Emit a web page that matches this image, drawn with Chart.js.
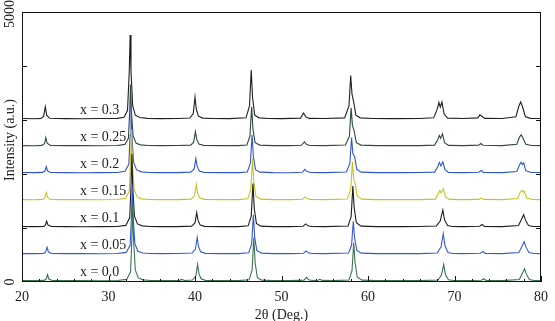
<!DOCTYPE html>
<html lang="en">
<head>
<meta charset="UTF-8">
<title>XRD patterns</title>
<script src="https://cdn.jsdelivr.net/npm/chart.js"></script>
<style>
  html, body { margin: 0; padding: 0; background: #fff; }
  #wrap { width: 555px; height: 321px; }
</style>
</head>
<body>
<div id="wrap"><canvas id="xrd"></canvas></div>
<script>
// compositions, bottom to top
const compositions = ['x = 0.0', 'x = 0.05', 'x = 0.1', 'x = 0.15', 'x = 0.2', 'x = 0.25', 'x = 0.3'];
const offsets = [0, 500, 1000, 1500, 2000, 2500, 3000];
const colors = ['#3a7552', '#3658d6', '#1e1e1e', '#c9c21e', '#3055d2', '#2d4b38', '#1f1f1f'];
const xTicks = [20, 30, 40, 50, 60, 70, 80];
const yTickLabels = [0, 5000];

// [2theta, intensity] (before vertical offset)
const x000 = [[20,26],[21.5,25],[22.55,30],[22.8,55],[22.95,135],[23.1,55],[23.5,28],[25,25],[27,26],[29,24],[31,27],[32.1,48],[32.55,190],[32.7,780],[32.8,1425],[32.9,780],[33.1,220],[33.45,75],[34,40],[34.9,28],[36,25],[38.2,30],[38.5,48],[38.8,28],[39.7,36],[40.1,110],[40.3,325],[40.45,160],[40.7,60],[41.2,30],[43,25],[45,26],[46.25,40],[46.6,220],[46.8,825],[46.95,360],[47.2,85],[47.7,35],[49,26],[51,25],[52.6,34],[52.9,85],[53.15,40],[53.6,28],[54.2,32],[54.45,50],[54.7,30],[56,25],[57.8,38],[58.15,210],[58.35,725],[58.5,360],[58.75,95],[59.3,35],[61,26],[64,25],[66,26],[68.1,38],[68.5,130],[68.75,325],[68.95,140],[69.3,40],[69.9,28],[71,26],[73.1,32],[73.4,60],[73.65,30],[75.5,26],[77.5,45],[77.85,160],[78.1,245],[78.3,150],[78.65,45],[79.2,28],[80,26]];
const x005 = [[20,26],[21.5,25],[22.5,30],[22.75,60],[22.9,145],[23.05,60],[23.4,28],[25,25],[27,26],[29,24],[31,28],[32.05,48],[32.5,180],[32.65,700],[32.75,1275],[32.85,700],[33.05,210],[33.4,70],[33.95,38],[34.8,28],[36,25],[38,27],[39.65,36],[40.05,110],[40.25,325],[40.4,160],[40.65,60],[41.2,30],[43,25],[45,26],[46.2,40],[46.55,200],[46.75,745],[46.9,330],[47.15,80],[47.7,35],[49,26],[51,25],[52.55,32],[52.85,75],[53.1,40],[53.5,28],[55,26],[57.75,36],[58.1,180],[58.3,625],[58.45,320],[58.7,90],[59.2,35],[61,26],[64,25],[66,26],[68,38],[68.45,150],[68.7,395],[68.9,170],[69.25,45],[69.8,28],[71,26],[73,32],[73.3,65],[73.55,30],[75.5,26],[77.45,45],[77.8,160],[78.05,245],[78.25,150],[78.6,45],[79.2,28],[80,26]];
const x010 = [[20,27],[21.5,25],[22.5,30],[22.7,55],[22.85,125],[23,55],[23.4,28],[25,26],[27,24],[29,26],[31,28],[32,48],[32.45,190],[32.6,760],[32.7,1375],[32.8,760],[33,220],[33.35,75],[33.9,40],[34.8,28],[36,26],[38,25],[39.6,35],[40,95],[40.2,285],[40.35,140],[40.6,55],[41.1,30],[43,25],[45,26],[46.15,40],[46.5,220],[46.7,825],[46.85,360],[47.1,85],[47.6,35],[49,26],[51,25],[52.5,32],[52.8,75],[53.05,40],[53.5,28],[55,26],[57.7,38],[58.05,210],[58.25,775],[58.4,380],[58.65,100],[59.2,35],[61,26],[64,25],[66,27],[67.9,38],[68.35,130],[68.65,335],[68.85,150],[69.2,45],[69.7,28],[71,26],[72.9,32],[73.2,65],[73.45,30],[75.5,26],[77.4,45],[77.75,160],[78,245],[78.2,150],[78.55,45],[79.1,28],[80,27]];
const x015 = [[20,26],[21.5,24],[22.4,30],[22.65,60],[22.8,155],[22.95,65],[23.3,28],[25,25],[27,26],[29,24],[31,28],[31.95,48],[32.4,180],[32.55,740],[32.65,1325],[32.75,740],[32.95,220],[33.3,75],[33.8,40],[34.7,28],[36,25],[38,26],[39.55,35],[39.95,100],[40.15,305],[40.3,150],[40.55,55],[41.1,30],[43,25],[45,26],[46.1,40],[46.45,210],[46.65,785],[46.8,340],[47.05,85],[47.6,35],[49,26],[51,25],[52.45,32],[52.75,75],[53,40],[53.4,28],[55,25],[57.6,38],[58,210],[58.2,725],[58.35,400],[58.5,345],[58.75,90],[59.3,35],[61,26],[64,25],[66,26],[67.8,35],[68.1,120],[68.3,195],[68.45,150],[68.7,225],[68.95,75],[69.4,30],[71,26],[72.8,30],[73.1,55],[73.4,30],[75.5,26],[77.3,45],[77.6,160],[77.8,195],[77.95,165],[78.05,185],[78.35,55],[79,28],[80,26]];
const x020 = [[20,27],[21.5,25],[22.4,30],[22.65,55],[22.8,135],[22.95,60],[23.3,28],[25,25],[27,24],[29,26],[31,29],[31.9,50],[32.35,180],[32.5,720],[32.6,1275],[32.7,720],[32.9,220],[33.25,75],[33.8,40],[34.7,28],[36,26],[38,25],[39.5,34],[39.9,90],[40.1,285],[40.25,140],[40.5,55],[41,30],[43,26],[45,25],[46.05,38],[46.4,200],[46.6,725],[46.75,320],[47,80],[47.5,35],[49,26],[51,24],[52.4,32],[52.7,85],[52.95,45],[53.4,28],[55,25],[57.5,38],[57.9,190],[58.1,675],[58.25,380],[58.45,325],[58.7,90],[59.2,35],[61,26],[64,25],[66,27],[67.7,35],[68.05,130],[68.25,215],[68.42,150],[68.65,225],[68.9,80],[69.3,30],[71,26],[72.8,32],[73.1,65],[73.35,30],[75.5,26],[77.2,45],[77.55,180],[77.7,215],[77.85,175],[78,205],[78.25,60],[78.9,28],[80,27]];
const x025 = [[20,26],[21.5,24],[22.3,30],[22.6,60],[22.75,175],[22.9,70],[23.3,28],[25,25],[27,26],[29,24],[31,28],[31.9,48],[32.3,160],[32.45,650],[32.55,1155],[32.65,650],[32.85,200],[33.2,70],[33.7,40],[34.6,28],[36,25],[38,27],[39.5,34],[39.85,90],[40.05,285],[40.2,140],[40.45,55],[41,30],[43,25],[45,26],[46,38],[46.35,200],[46.55,745],[46.7,330],[46.95,80],[47.5,35],[49,26],[51,25],[52.3,32],[52.65,95],[52.9,45],[53.3,28],[55,26],[57.4,38],[57.85,200],[58.05,725],[58.2,400],[58.4,300],[58.65,80],[59.2,35],[61,26],[64,25],[66,26],[67.7,35],[68.05,130],[68.25,215],[68.4,160],[68.6,245],[68.85,80],[69.3,30],[71,26],[72.8,34],[73.05,65],[73.3,32],[75.5,25],[77.2,50],[77.5,180],[77.7,225],[77.9,170],[78.25,50],[78.9,28],[80,26]];
const x030 = [[20,28],[21.5,24],[22.2,30],[22.5,70],[22.7,245],[22.85,90],[23.2,32],[25,26],[27,24],[29,27],[31,30],[31.8,50],[32.2,180],[32.4,900],[32.5,1575],[32.6,900],[32.8,260],[33.1,90],[33.6,45],[34.5,30],[36,26],[38,28],[39.4,36],[39.8,120],[40,425],[40.15,200],[40.4,70],[40.9,35],[42,27],[44,26],[45.9,40],[46.3,260],[46.5,925],[46.65,420],[46.9,90],[47.4,40],[48.5,28],[50,26],[52.2,35],[52.55,130],[52.8,60],[53.2,30],[55,27],[57.3,40],[57.8,260],[58,825],[58.15,480],[58.35,330],[58.6,90],[59.1,40],[60.5,28],[63,26],[66,27],[67.6,40],[68,200],[68.2,325],[68.35,240],[68.55,335],[68.8,110],[69.2,35],[71,28],[72.7,40],[72.95,95],[73.15,70],[73.5,30],[75.5,27],[77.1,60],[77.45,260],[77.65,335],[77.85,250],[78.2,60],[78.8,30],[80,28]];
const patterns = [x000, x005, x010, x015, x020, x025, x030];

const datasets = patterns.map((pts, i) => ({
    label: compositions[i],
    data: pts.map(p => ({ x: p[0], y: p[1] + offsets[i] })),
    borderColor: colors[i],
    borderWidth: 1.1,
    pointRadius: 0,
    tension: 0,
    fill: false
}));

const SERIF = '"Liberation Serif", "DejaVu Serif", serif';

// frame, inward ticks, axis texts and the composition labels
const decorations = {
    id: 'decorations',
    afterDraw(chart) {
        const ctx = chart.ctx;
        const a = chart.chartArea;
        const xs = chart.scales.x, ys = chart.scales.y;
        ctx.save();
        ctx.strokeStyle = '#111';
        ctx.lineWidth = 1;
        ctx.strokeRect(a.left + 0.5, a.top + 0.5, a.right - a.left - 1, a.bottom - a.top - 1);

        ctx.beginPath();
        for (let v = 20; v <= 80; v += 2) {
            const px = Math.round(xs.getPixelForValue(v)) + 0.5;
            const len = v % 10 === 0 ? 6 : 3;
            ctx.moveTo(px, a.bottom);
            ctx.lineTo(px, a.bottom - len);
        }
        for (let v = 1000; v < 5000; v += 1000) {
            const py = Math.round(ys.getPixelForValue(v)) + 0.5;
            ctx.moveTo(a.left, py); ctx.lineTo(a.left + 5, py);
            ctx.moveTo(a.right, py); ctx.lineTo(a.right - 5, py);
        }
        ctx.stroke();

        ctx.fillStyle = '#222';
        ctx.font = '14px ' + SERIF;
        ctx.textAlign = 'center';
        ctx.textBaseline = 'middle';

        xTicks.forEach(v => ctx.fillText(String(v), xs.getPixelForValue(v), a.bottom + 15));
        ctx.fillText('2θ (Deg.)', (a.left + a.right) / 2, a.bottom + 33);

        yTickLabels.forEach(v => {
            let py = ys.getPixelForValue(v);
            py = Math.max(py, 14);
            ctx.save();
            ctx.translate(10, py);
            ctx.rotate(-Math.PI / 2);
            ctx.fillText(String(v), 0, 0);
            ctx.restore();
        });
        ctx.save();
        ctx.translate(10, 140);
        ctx.rotate(-Math.PI / 2);
        ctx.fillText('Intensity (a.u.)', 0, 0);
        ctx.restore();

        ctx.textAlign = 'left';
        ctx.textBaseline = 'alphabetic';
        compositions.forEach((c, i) => {
            ctx.fillText(c, xs.getPixelForValue(26.7), ys.getPixelForValue(offsets[i] + 120));
        });
        ctx.restore();
    }
};

new Chart(document.getElementById('xrd'), {
    type: 'line',
    data: { datasets: datasets },
    options: {
        responsive: true,
        maintainAspectRatio: false,
        animation: false,
        layout: { padding: { left: 14, right: 14, top: 12, bottom: 31 } },
        plugins: { legend: { display: false }, tooltip: { enabled: false } },
        scales: {
            x: {
                type: 'linear',
                min: 20,
                max: 80,
                ticks: { display: false },
                grid: { display: false },
                border: { display: false }
            },
            y: {
                min: 0,
                max: 5000,
                ticks: { display: false },
                grid: { display: false },
                border: { display: false }
            }
        }
    },
    plugins: [decorations]
});
</script>
</body>
</html>
